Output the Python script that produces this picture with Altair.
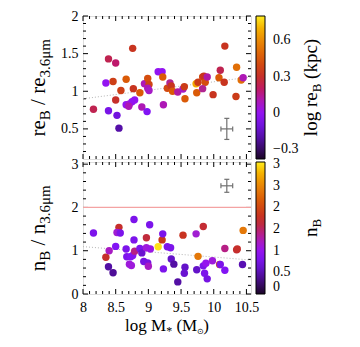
import altair as alt
import pandas as pd

FONT = "Liberation Serif"

# ---------------- data ----------------
top_mass = [8.16, 8.39, 8.50, 8.35, 8.46, 8.39, 8.50, 8.52, 8.55, 8.58, 8.66, 8.76, 8.77, 8.66,
            8.71, 8.75, 8.79, 8.70, 8.90, 8.98, 8.87, 8.94, 8.99, 9.01, 8.99, 9.01, 9.15, 9.21,
            9.22, 9.23, 9.29, 9.33, 9.35, 9.37, 9.45, 9.53, 9.55, 9.56, 9.73, 9.74, 9.76, 9.83,
            9.85, 9.87, 9.90, 9.83, 9.99, 10.08, 10.10, 10.16, 10.17, 10.34, 10.35, 10.42, 10.45]
top_ratio = [0.76, 1.43, 1.375, 1.11, 1.13, 0.74, 0.885, 0.68, 0.51, 1.01, 1.16, 1.57, 1.035, 0.82,
             0.83, 0.86, 0.885, 0.80, 0.79, 0.73, 0.98, 1.10, 1.17, 1.09, 1.04, 1.01, 1.26, 1.26,
             1.19, 0.82, 1.04, 1.11, 1.07, 1.00, 0.99, 1.03, 1.06, 0.90, 1.10, 0.98, 1.12, 1.19,
             1.20, 1.12, 1.19, 1.035, 0.955, 1.18, 1.28, 1.12, 1.60, 0.93, 1.32, 1.15, 1.18]
top_logre = [0.22, 0.22, 0.19, 0.00, 0.36, -0.08, 0.30, -0.10, -0.20, 0.36, 0.46, 0.32, 0.32, 0.00,
             0.05, 0.00, 0.00, 0.10, 0.10, -0.05, 0.46, 0.10, 0.42, 0.38, 0.10, 0.08, 0.00, 0.00,
             0.46, 0.10, 0.40, 0.15, 0.32, 0.46, 0.12, 0.08, 0.35, 0.46, 0.68, 0.46, 0.35, 0.40,
             0.32, 0.42, 0.12, 0.15, 0.32, 0.46, 0.22, 0.32, 0.32, 0.35, 0.52, 0.52, 0.10]

bot_mass = [8.16, 8.35, 8.40, 8.39, 8.46, 8.50, 8.55, 8.52, 8.57, 8.66, 8.67, 8.71, 8.74, 8.73,
            8.76, 8.78, 8.78, 8.79, 8.87, 8.90, 8.93, 8.97, 8.97, 8.99, 9.00, 9.02, 9.03, 9.15,
            9.21, 9.22, 9.23, 9.29, 9.34, 9.35, 9.39, 9.45, 9.53, 9.56, 9.55, 9.73, 9.74, 9.76,
            9.84, 9.84, 9.86, 9.88, 9.90, 9.98, 10.09, 10.10, 10.17, 10.17, 10.35, 10.36, 10.44, 10.45]
bot_ratio = [1.41, 0.85, 1.00, 0.63, 0.49, 1.10, 1.54, 1.42, 1.41, 1.04, 0.86, 0.69, 0.66, 0.86,
             0.89, 1.72, 1.25, 0.99, 1.05, 0.95, 0.75, 1.07, 1.30, 0.72, 0.64, 1.60, 1.04, 1.09,
             1.25, 1.39, 0.58, 1.09, 1.07, 0.81, 0.69, 0.28, 1.36, 0.62, 0.48, 1.39, 0.56, 0.87,
             1.56, 0.65, 0.48, 0.71, 0.35, 0.77, 0.68, 0.68, 1.05, 0.55, 1.02, 1.04, 0.68, 1.47]
bot_n = [0.80, 1.75, 1.20, 0.45, 0.40, 0.85, 1.75, 1.15, 0.80, 0.80, 0.80, 1.10, 1.10, 0.85,
         0.85, 0.80, 0.80, 1.40, 0.80, 0.65, 0.75, 1.10, 1.65, 0.75, 1.20, 0.80, 1.05, 3.00,
         1.85, 0.80, 0.80, 0.80, 0.80, 0.60, 0.45, 0.45, 1.80, 0.60, 0.65, 1.15, 0.60, 2.40,
         1.70, 0.80, 0.80, 1.00, 0.75, 1.10, 2.00, 0.80, 1.40, 0.85, 1.70, 1.75, 0.50, 2.40]

fit_mass = [8.0, 10.57]
fit_top = [0.90, 1.19]
fit_bot = [1.095, 0.785]

err_top = {"x": [10.2], "y": [0.5], "dx": [0.09], "dy": [0.14]}
err_bot = {"x": [10.2], "y": [2.5], "dx": [0.09], "dy": [0.15]}

limit_line = [2.0]

x_major = [8, 8.5, 9, 9.5, 10, 10.5]
top_y_major = [0.5, 1, 1.5, 2]
bot_y_major = [0, 1, 2, 3]
top_cb_ticks = [-0.3, 0, 0.3, 0.6]
bot_cb_ticks = [0, 0.5, 1, 1.5, 2, 2.5, 3]

x_minor = [round(8 + 0.1 * i, 2) for i in range(1, 26) if i % 5]
top_y_minor = [round(0.1 * i, 2) for i in range(2, 20) if i % 5]
bot_y_minor = [round(0.2 * i, 2) for i in range(1, 15) if i % 5]

# ---------------- style ----------------
W, H1, H2 = 168, 143, 132
X_DOM = [8, 10.57]
TOP_DOM = [0.1, 2]
BOT_DOM = [0, 3.05]
TOP_CDOM = [-0.38, 0.8]
BOT_CDOM = [0, 3.05]
LBL = 14

PAL_F = [0, 0.08, 0.18, 0.30, 0.38, 0.45, 0.52, 0.60, 0.70, 0.80, 0.90, 1.0]
PAL_C = ["#1a0526", "#3c0a6e", "#5e12c0", "#8a14ff", "#a11fd0", "#b1248f",
         "#bd2a45", "#c8361a", "#d85508", "#e67d0a", "#f2a800", "#ffec20"]

EM = {'l': 0.278, 'o': 0.5, 'g': 0.5, ' ': 0.25, 'M': 0.889, '*': 0.5, '(': 0.333,
      ')': 0.333, 'r': 0.333, 'e': 0.444, 'B': 0.667, '/': 0.278, '3': 0.5, '.': 0.25,
      '6': 0.5, 'μ': 0.576, 'm': 0.778, 'n': 0.5, 'k': 0.5, 'p': 0.5, 'c': 0.444, '⊙': 0.75}


def tw(s, size):
    return sum(EM.get(ch, 0.5) for ch in s) * size


def text_layers(pieces, x0, y0, rotated):
    total = sum(tw(t, s) for t, s, _ in pieces)
    layers = []
    pos = (y0 + total / 2) if rotated else (x0 - total / 2)
    sign = -1 if rotated else 1
    for t, s, sh in pieces:
        lead = len(t) - len(t.lstrip(" "))
        trail = len(t) - len(t.rstrip(" "))
        core = t.strip(" ")
        pos += sign * lead * EM[" "] * s
        if rotated:
            enc = dict(x=alt.value(x0 + sh), y=alt.value(pos))
        else:
            enc = dict(x=alt.value(pos), y=alt.value(y0 + sh))
        layers.append(
            alt.Chart(pd.DataFrame({"t": [core]}))
            .mark_text(angle=270 if rotated else 0, align="left", baseline="alphabetic",
                       font=FONT, fontSize=s, color="black")
            .encode(text="t:N", **enc)
        )
        pos += sign * (tw(core, s) + trail * EM[" "] * s)
    return layers


def panel(mass, ratio, cval, cdom, cticks, ydom, ymaj, ymin, H, fit_y, err, show_x,
          ytitle, ctitle, extra=None):
    xs = alt.Scale(domain=X_DOM, nice=False, zero=False)
    ys = alt.Scale(domain=ydom, nice=False, zero=False)
    cstops = [cdom[0] + f * (cdom[1] - cdom[0]) for f in PAL_F]
    cs = alt.Scale(domain=cstops, range=PAL_C, type="linear", clamp=True)
    if show_x:
        xaxis = alt.Axis(values=x_major, title=None, ticks=False, tickSize=0, domain=False,
                         grid=False, labelFont=FONT, labelFontSize=LBL, labelPadding=6,
                         labelColor="black", labelFlush=False, labelOverlap=False,
                         format="~g")
    else:
        xaxis = None
    yaxis = alt.Axis(values=ymaj, title=None, ticks=False, tickSize=0, domain=False,
                     grid=False, labelFont=FONT, labelFontSize=LBL, labelPadding=5,
                     labelColor="black", labelOverlap=False, format="~g")

    df = pd.DataFrame({"m": mass, "r": ratio, "c": cval})
    layers = []

    def xt(vals, L, top):
        return alt.Chart(pd.DataFrame({"v": vals})).mark_tick(
            orient="vertical", size=L, thickness=1, color="black", opacity=1
        ).encode(x=alt.X("v:Q", scale=xs, axis=xaxis),
                 y=alt.value(L / 2 if top else H - L / 2))

    def yt(vals, L, right):
        return alt.Chart(pd.DataFrame({"v": vals})).mark_tick(
            orient="horizontal", size=L, thickness=1, color="black", opacity=1
        ).encode(y=alt.Y("v:Q", scale=ys, axis=yaxis),
                 x=alt.value(W - L / 2 if right else L / 2))

    layers += [xt(x_major, 5, False), xt(x_minor, 3, False),
               xt(x_major, 5, True), xt(x_minor, 3, True),
               yt(ymaj, 5, False), yt(ymin, 3, False),
               yt(ymaj, 5, True), yt(ymin, 3, True)]

    if extra is not None:
        layers.append(
            alt.Chart(pd.DataFrame({"y": extra})).mark_rule(color="#f4a3a3", strokeWidth=1.3)
            .encode(y=alt.Y("y:Q", scale=ys, axis=yaxis))
        )

    layers.append(
        alt.Chart(pd.DataFrame({"m": fit_mass, "f": fit_y}))
        .mark_line(color="#b5b5b5", strokeWidth=1, strokeDash=[1, 2])
        .encode(x=alt.X("m:Q", scale=xs, axis=xaxis), y=alt.Y("f:Q", scale=ys, axis=yaxis))
    )

    layers.append(
        alt.Chart(df).mark_circle(size=55, opacity=1)
        .encode(
            x=alt.X("m:Q", scale=xs, axis=xaxis),
            y=alt.Y("r:Q", scale=ys, axis=yaxis),
            color=alt.Color(
                "c:Q", scale=cs,
                legend=alt.Legend(
                    orient="right", offset=5, padding=0, title=None, direction="vertical",
                    gradientLength=H, gradientThickness=9, gradientStrokeColor="black",
                    gradientStrokeWidth=1, values=cticks, labelFont=FONT, labelFontSize=LBL,
                    labelColor="black", labelOffset=8, labelOverlap=False, format="~g",
                    labelBaseline="middle"),
            ),
        )
    )

    e = pd.DataFrame(err)
    e["x0"] = e["x"] - e["dx"]
    e["x1"] = e["x"] + e["dx"]
    e["y0"] = e["y"] - e["dy"]
    e["y1"] = e["y"] + e["dy"]
    ec = "#707070"
    layers.append(alt.Chart(e).mark_rule(color=ec, strokeWidth=1.2).encode(
        x=alt.X("x0:Q", scale=xs, axis=xaxis), x2="x1:Q", y=alt.Y("y:Q", scale=ys, axis=yaxis)))
    layers.append(alt.Chart(e).mark_rule(color=ec, strokeWidth=1.2).encode(
        x=alt.X("x:Q", scale=xs, axis=xaxis), y=alt.Y("y0:Q", scale=ys, axis=yaxis), y2="y1:Q"))
    capv = pd.DataFrame({"x": [e["x0"][0], e["x1"][0]], "y": [e["y"][0], e["y"][0]]})
    caph = pd.DataFrame({"x": [e["x"][0], e["x"][0]], "y": [e["y0"][0], e["y1"][0]]})
    layers.append(alt.Chart(capv).mark_tick(orient="vertical", size=5, thickness=1.2,
                                            color=ec, opacity=1).encode(
        x=alt.X("x:Q", scale=xs, axis=xaxis), y=alt.Y("y:Q", scale=ys, axis=yaxis)))
    layers.append(alt.Chart(caph).mark_tick(orient="horizontal", size=5, thickness=1.2,
                                            color=ec, opacity=1).encode(
        x=alt.X("x:Q", scale=xs, axis=xaxis), y=alt.Y("y:Q", scale=ys, axis=yaxis)))

    layers += text_layers(ytitle, -38, H / 2, True)
    layers += text_layers(ctitle, W + 66, H / 2, True)
    if show_x:
        layers += text_layers(
            [("log M", 17, 0), ("*", 12, 4), (" (M", 17, 0), ("⊙", 8, 3), (")", 17, 0)],
            W / 2, H + 37, False)

    return alt.layer(*layers).properties(width=W, height=H)


top = panel(top_mass, top_ratio, top_logre, TOP_CDOM, top_cb_ticks, TOP_DOM, top_y_major,
            top_y_minor, H1, fit_top, err_top, False,
            [("re", 21, 0), ("B", 15, 5), (" / re", 21, 0), ("3.6μm", 15, 5)],
            [("log re", 19, 0), ("B", 13, 4), (" (kpc)", 19, 0)])

bot = panel(bot_mass, bot_ratio, bot_n, BOT_CDOM, bot_cb_ticks, BOT_DOM, bot_y_major,
            bot_y_minor, H2, fit_bot, err_bot, True,
            [("n", 21, 0), ("B", 15, 5), (" / n", 21, 0), ("3.6μm", 15, 5)],
            [("n", 19, 0), ("B", 13, 4)],
            extra=limit_line)

chart = (
    alt.vconcat(top, bot, spacing=3, bounds="flush")
    .resolve_scale(color="independent")
    .resolve_legend(color="independent")
    .properties(padding={"left": 19, "top": 0, "right": 5, "bottom": 5})
    .configure_view(stroke="black", strokeWidth=1.5)
    .configure(font=FONT)
)

chart.save("out.html", embed_options={"renderer": "svg", "actions": False})
